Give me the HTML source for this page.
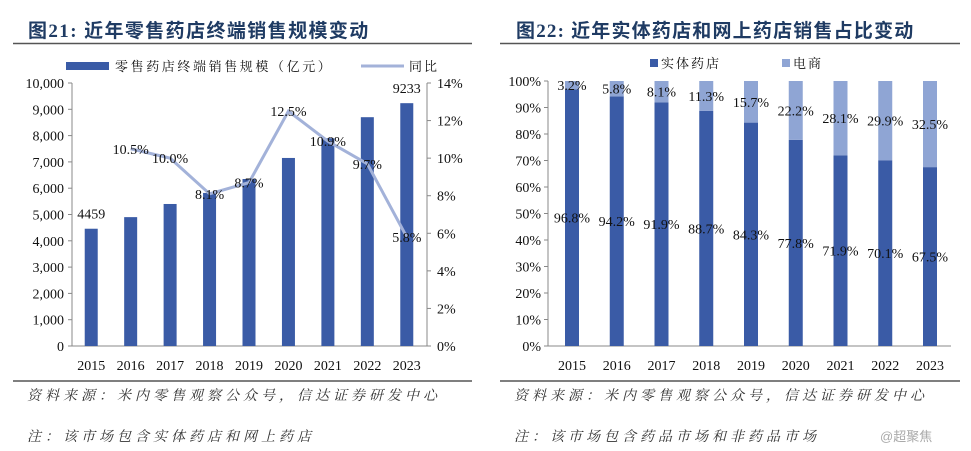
<!DOCTYPE html>
<html><head><meta charset="utf-8">
<style>
html,body{margin:0;padding:0;background:#fff;width:971px;height:451px;overflow:hidden}
svg{display:block;font-family:"Liberation Serif","Noto Serif CJK SC","Noto Sans CJK SC",serif}
</style></head>
<body>
<svg id="s" width="971" height="451" viewBox="0 0 971 451" xmlns="http://www.w3.org/2000/svg">
<text x="28" y="37" font-size="19" font-weight="bold" fill="#1f3b63" letter-spacing="1.4" font-family="Liberation Serif,Noto Sans CJK SC,sans-serif">图21: 近年零售药店终端销售规模变动</text>
<line x1="13" y1="43.5" x2="472" y2="43.5" stroke="#555" stroke-width="1.5"/>
<text x="516" y="37" font-size="19" font-weight="bold" fill="#1f3b63" letter-spacing="1.2" font-family="Liberation Serif,Noto Sans CJK SC,sans-serif">图22: 近年实体药店和网上药店销售占比变动</text>
<line x1="500" y1="43.5" x2="960" y2="43.5" stroke="#555" stroke-width="1.5"/>
<line x1="13" y1="381" x2="472" y2="381" stroke="#333" stroke-width="1.2"/>
<line x1="500" y1="381" x2="960" y2="381" stroke="#333" stroke-width="1.2"/>
<text x="27" y="400" font-size="14" font-style="italic" fill="#333" letter-spacing="4">资料来源：米内零售观察公众号，信达证券研发中心</text>
<text x="27" y="441" font-size="14" font-style="italic" fill="#333" letter-spacing="4">注：该市场包含实体药店和网上药店</text>
<text x="514" y="400" font-size="14" font-style="italic" fill="#333" letter-spacing="4">资料来源：米内零售观察公众号，信达证券研发中心</text>
<text x="514" y="441" font-size="14" font-style="italic" fill="#333" letter-spacing="4">注：该市场包含药品市场和非药品市场</text>
<text x="880" y="441" font-size="13" fill="#aaa" font-family="Liberation Sans,Noto Sans CJK SC,sans-serif">@超聚焦</text>
<g id="L"></g>
<g id="R"></g>
</svg>
<script>
const years=["2015","2016","2017","2018","2019","2020","2021","2022","2023"];
const salesValues=[4459,4900,5400,5820,6350,7150,7900,8700,9233];
const salesLabels=["4459","","","","","","","","9233"];
const yoyValues=[null,10.5,10.0,8.1,8.7,12.5,10.9,9.7,5.8];
const leftTicks=[0,1000,2000,3000,4000,5000,6000,7000,8000,9000,10000];
const rightTicks=[0,2,4,6,8,10,12,14];
const years2=["2015","2016","2017","2018","2019","2020","2021","2022","2023"];
const storeShare=[96.8,94.2,91.9,88.7,84.3,77.8,71.9,70.1,67.5];
const onlineShare=[3.2,5.8,8.1,11.3,15.7,22.2,28.1,29.9,32.5];
const shareTicks=[0,10,20,30,40,50,60,70,80,90,100];

const NS="http://www.w3.org/2000/svg";
function mk(p,t,a,txt){const e=document.createElementNS(NS,t);for(const k in a)e.setAttribute(k,a[k]);if(txt!==undefined)e.textContent=txt;p.appendChild(e);return e;}
const DARK="#3a5ba6",LIGHT="#8fa5d4",LINE="#a3b2d9";

// LEFT
const L=document.getElementById('L');
const lx0=72,lx1=427,ly0=346,ly1=83;
const yL=v=>ly0-(v/10000)*(ly0-ly1);
const yR=v=>ly0-(v/14)*(ly0-ly1);
const step=(lx1-lx0)/years.length;
const xc=i=>lx0+step*(i+0.5)-0.5;
mk(L,'line',{x1:lx0,y1:ly1,x2:lx0,y2:ly0,stroke:'#888'});
mk(L,'line',{x1:lx1,y1:ly1,x2:lx1,y2:ly0,stroke:'#888'});
mk(L,'line',{x1:lx0,y1:ly0,x2:lx1,y2:ly0,stroke:'#888'});
leftTicks.forEach(v=>{
 const t=mk(L,'text',{x:lx0-8,y:yL(v)+5,'font-size':14,'text-anchor':'end',fill:'#111'},v.toLocaleString('en-US'));
 
 
 mk(L,'line',{x1:lx0-4,y1:yL(v),x2:lx0,y2:yL(v),stroke:'#888'});
});
rightTicks.forEach(v=>{
 const t=mk(L,'text',{x:lx1+10,y:yR(v)+5,'font-size':14,fill:'#111'},v+'%');
 
 
 mk(L,'line',{x1:lx1,y1:yR(v),x2:lx1+4,y2:yR(v),stroke:'#888'});
});
years.forEach((y,i)=>{
 const b=mk(L,'rect',{x:xc(i)-6.5,y:yL(salesValues[i]),width:13,height:ly0-yL(salesValues[i]),fill:DARK});
 
 
 const t=mk(L,'text',{x:xc(i),y:ly0+24,'font-size':14,'text-anchor':'middle',fill:'#111'},y);
 
 
 if(salesLabels[i]){const s=mk(L,'text',{x:xc(i),y:yL(salesValues[i])-10,'font-size':14,'text-anchor':'middle',fill:'#111'},salesLabels[i]);
  
  }
});
let d='';yoyValues.forEach((v,i)=>{if(v==null)return;d+=(d?'L':'M')+xc(i)+' '+yR(v);});
const pl=mk(L,'path',{d:d,fill:'none',stroke:LINE,'stroke-width':3});


yoyValues.forEach((v,i)=>{if(v==null)return;
 const t=mk(L,'text',{x:xc(i),y:yR(v)+5,'font-size':14,'text-anchor':'middle',fill:'#111'},v.toFixed(1)+'%');
 
 });
mk(L,'rect',{x:66,y:62,width:43,height:8,fill:DARK});
const lg1=mk(L,'text',{x:115,y:71,'font-size':13,fill:'#111','letter-spacing':2.6},'零售药店终端销售规模（亿元）');


mk(L,'line',{x1:361,y1:66,x2:404,y2:66,stroke:LINE,'stroke-width':3});
const lg2=mk(L,'text',{x:409,y:71,'font-size':13,fill:'#111','letter-spacing':2},'同比');



// RIGHT
const R=document.getElementById('R');
const rx0=548,rx1=951,ry0=346,ry1=81;
const yP=v=>ry0-(v/100)*(ry0-ry1);
const st2=44.75;
const xc2=i=>572+st2*i;
mk(R,'line',{x1:rx0,y1:ry1,x2:rx0,y2:ry0,stroke:'#888'});
mk(R,'line',{x1:rx0,y1:ry0,x2:rx1,y2:ry0,stroke:'#888'});
shareTicks.forEach(v=>{
 const t=mk(R,'text',{x:rx0-7,y:yP(v)+5,'font-size':14,'text-anchor':'end',fill:'#111'},v+'%');
 
 
 mk(R,'line',{x1:rx0-4,y1:yP(v),x2:rx0,y2:yP(v),stroke:'#888'});
});
years2.forEach((y,i)=>{
 const a=mk(R,'rect',{x:xc2(i)-7,y:yP(storeShare[i]),width:14,height:ry0-yP(storeShare[i]),fill:DARK});
 
 
 const b=mk(R,'rect',{x:xc2(i)-7,y:yP(storeShare[i]+onlineShare[i]),width:14,height:yP(storeShare[i])-yP(storeShare[i]+onlineShare[i]),fill:LIGHT});
 
 
 const t=mk(R,'text',{x:xc2(i),y:ry0+24,'font-size':14,'text-anchor':'middle',fill:'#111'},y);
 
 
 const s=mk(R,'text',{x:xc2(i),y:yP(storeShare[i]/2)+5,'font-size':14,'text-anchor':'middle',fill:'#111'},storeShare[i].toFixed(1)+'%');
 
 
 const o=mk(R,'text',{x:xc2(i),y:yP(100-onlineShare[i]/2)+5,'font-size':14,'text-anchor':'middle',fill:'#111'},onlineShare[i].toFixed(1)+'%');
 
 
});
mk(R,'rect',{x:650,y:59,width:8,height:8,fill:DARK});
const l3=mk(R,'text',{x:661,y:68,'font-size':13,fill:'#111','letter-spacing':2},'实体药店');


mk(R,'rect',{x:782,y:59,width:8,height:8,fill:LIGHT});
const l4=mk(R,'text',{x:793,y:68,'font-size':13,fill:'#111','letter-spacing':2},'电商');


</script>
</body></html>
